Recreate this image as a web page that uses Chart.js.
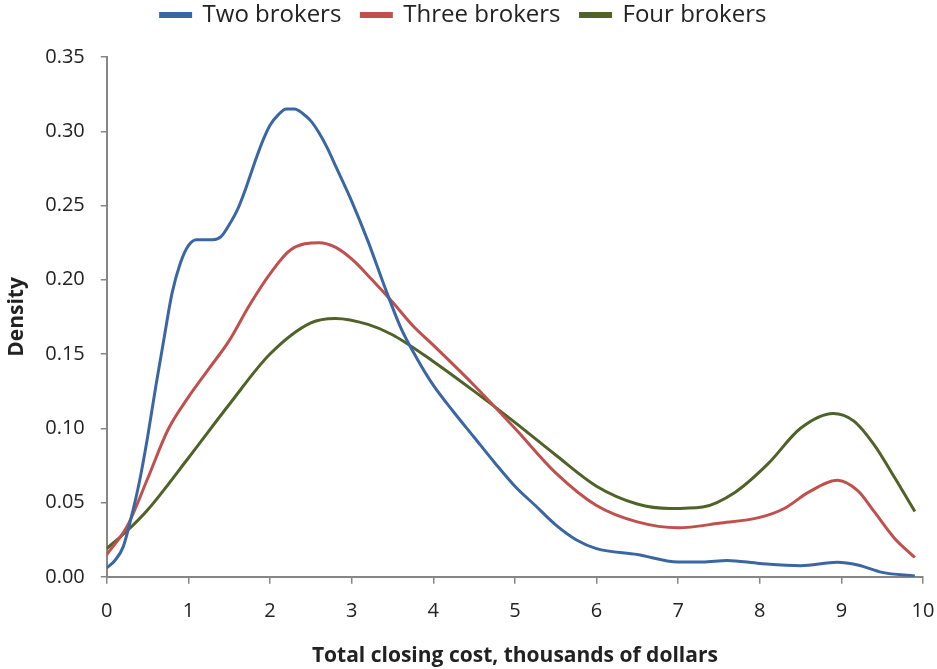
<!DOCTYPE html>
<html>
<head>
<meta charset="utf-8">
<script src="https://cdn.jsdelivr.net/npm/chart.js@4.4.1/dist/chart.umd.min.js"></script>
<style>
  html, body { margin: 0; padding: 0; background: #fff; }
  #wrap { width: 937px; height: 669px; }
</style>
</head>
<body>
<div id="wrap"><canvas id="myChart" width="937" height="669"></canvas></div>
<script>
// series labels
const seriesNames = ["Two brokers", "Three brokers", "Four brokers"];

// two brokers (x in thousands of dollars, y density)
const twoX = [0, 0.1, 0.2, 0.3, 0.4, 0.5, 0.6, 0.7, 0.8, 0.9, 1.0, 1.1, 1.3, 1.4, 1.5, 1.6, 1.7, 1.8, 1.9, 2.0,
  2.1, 2.2, 2.3, 2.4, 2.5, 2.6, 2.7, 2.8, 3.0, 3.2, 3.4, 3.6, 3.8, 4.0, 4.25, 4.5, 4.75, 5.0, 5.25, 5.5,
  5.75, 6.0, 6.5, 7.0, 7.3, 7.6, 8.0, 8.5, 8.95, 9.2, 9.5, 9.9];
const twoY = [0.006, 0.011, 0.020, 0.040, 0.064, 0.094, 0.128, 0.160, 0.191, 0.211, 0.223, 0.227, 0.227, 0.229, 0.237, 0.247, 0.261, 0.277, 0.292, 0.304,
  0.311, 0.315, 0.315, 0.312, 0.307, 0.299, 0.289, 0.277, 0.253, 0.226, 0.196, 0.168, 0.147, 0.129, 0.111, 0.094, 0.077, 0.061, 0.048, 0.035,
  0.025, 0.019, 0.015, 0.010, 0.010, 0.011, 0.009, 0.0075, 0.0098, 0.008, 0.003, 0.0005];

// three brokers
const threeX = [0, 0.25, 0.5, 0.75, 1.0, 1.25, 1.5, 1.75, 2.0, 2.25, 2.6, 2.8, 3.0, 3.25, 3.5, 3.75, 4.0, 4.5, 5.0, 5.5,
  6.0, 6.5, 7.0, 7.5, 8.0, 8.3, 8.6, 8.95, 9.2, 9.4, 9.65, 9.9];
const threeY = [0.015, 0.034, 0.066, 0.099, 0.121, 0.140, 0.159, 0.183, 0.204, 0.220, 0.225, 0.222, 0.214, 0.200, 0.185, 0.169, 0.156, 0.129, 0.100, 0.070,
  0.048, 0.037, 0.033, 0.036, 0.040, 0.046, 0.057, 0.065, 0.058, 0.044, 0.026, 0.013];

// four brokers
const fourX = [0, 0.25, 0.5, 1.0, 1.5, 2.0, 2.5, 2.8, 3.2, 3.5, 4.0, 4.5, 5.0, 5.5, 6.0, 6.5, 6.9, 7.3, 7.7, 8.1,
  8.5, 8.9, 9.15, 9.4, 9.65, 9.9];
const fourY = [0.019, 0.031, 0.045, 0.080, 0.116, 0.150, 0.171, 0.174, 0.170, 0.163, 0.145, 0.125, 0.104, 0.082, 0.061, 0.049, 0.046, 0.047, 0.057, 0.076,
  0.100, 0.110, 0.105, 0.089, 0.067, 0.044];

const colors = ["#3A67A3", "#C0504D", "#4F6228"];

// pair x and y arrays
function pts(xs, ys) {
  return xs.map((x, i) => ({ x: x, y: ys[i] }));
}

const datasets = [pts(twoX, twoY), pts(threeX, threeY), pts(fourX, fourY)].map((d, i) => ({
  label: seriesNames[i],
  data: d,
  borderColor: colors[i],
  backgroundColor: colors[i],
  borderWidth: 3,
  pointRadius: 0,
  fill: false,
  cubicInterpolationMode: "monotone"
}));

const fontFam = "'Open Sans', sans-serif";
const axisGray = "#868686";

// legend box a bit taller, so the plot starts lower
const legendHeight = {
  id: "legendHeight",
  beforeInit(chart) {
    const fit = chart.legend.fit;
    chart.legend.fit = function () {
      fit.bind(chart.legend)();
      this.height = 74;
    };
  }
};

const config = {
  type: "line",
  data: { datasets: datasets },
  options: {
    responsive: false,
    animation: false,
    layout: { padding: { left: 4, right: 14, top: -17, bottom: 0 } },
    plugins: {
      legend: {
        position: "top",
        labels: {
          boxWidth: 30,
          boxHeight: 3,
          padding: 20,
          color: "#222",
          font: { family: fontFam, size: 24 }
        }
      },
      tooltip: { enabled: false }
    },
    scales: {
      x: {
        type: "linear",
        min: 0,
        max: 10,
        border: { display: true, color: axisGray, width: 2 },
        grid: { drawOnChartArea: false, drawTicks: true, tickLength: 7, color: axisGray, lineWidth: 1.5 },
        ticks: { stepSize: 1, color: "#222", padding: 15, font: { family: fontFam, size: 20 } },
        title: {
          display: true,
          text: "Total closing cost, thousands of dollars",
          color: "#222",
          padding: { top: 6, bottom: 0 },
          font: { family: fontFam, size: 21, weight: "bold" }
        },
        afterFit(scale) {
          // the "10" label may run into the right margin
          scale.paddingRight = 0;
        }
      },
      y: {
        min: 0,
        max: 0.35,
        border: { display: true, color: axisGray, width: 2 },
        grid: { drawOnChartArea: false, drawTicks: true, tickLength: 6, color: axisGray, lineWidth: 1.5 },
        ticks: {
          stepSize: 0.05,
          color: "#222",
          padding: 16,
          font: { family: fontFam, size: 20 },
          callback: (v) => v.toFixed(2)
        },
        title: {
          display: true,
          text: "Density",
          color: "#222",
          padding: { top: 0, bottom: 0 },
          font: { family: fontFam, size: 21, weight: "bold" }
        }
      }
    }
  },
  plugins: [legendHeight]
};

const context = document.getElementById("myChart").getContext("2d");
const chart = new Chart(context, config);
</script>
</body>
</html>
